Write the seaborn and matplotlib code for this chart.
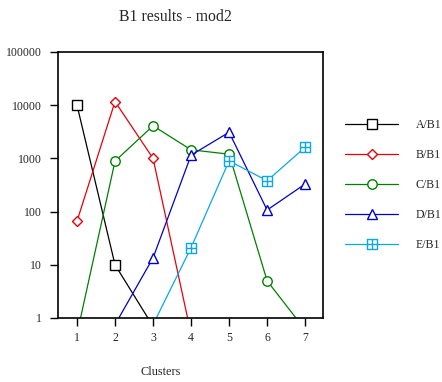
import numpy as np
import pandas as pd
import matplotlib
matplotlib.use("Agg")
import matplotlib.pyplot as plt
from matplotlib.path import Path
from matplotlib.markers import MarkerStyle
import seaborn as sns

clusters = [1, 2, 3, 4, 5, 6, 7]
series_names = ["A/B1", "B/B1", "C/B1", "D/B1", "E/B1"]
a_b1 = [10000, 10, 0.7, np.nan, np.nan, np.nan, np.nan]
b_b1 = [66, 11700, 1000, 0.5, np.nan, np.nan, np.nan]
c_b1 = [0.5, 890, 4100, 1450, 1200, 5, 0.6]
d_b1 = [np.nan, 0.75, 13.5, 1150, 3100, 107, 330]
e_b1 = [np.nan, np.nan, 0.75, 21, 900, 380, 1620]
y_ticks = [1, 10, 100, 1000, 10000, 100000]

colors = ["#000000", "#e8000b", "#008000", "#0000cc", "#0aa8e6"]

# square with a cross inside, for the last series
sq_cross = Path(
    [(-1, -1), (1, -1), (1, 1), (-1, 1), (-1, -1),
     (0, -1), (0, 1), (-1, 0), (1, 0)],
    [Path.MOVETO, Path.LINETO, Path.LINETO, Path.LINETO, Path.CLOSEPOLY,
     Path.MOVETO, Path.LINETO, Path.MOVETO, Path.LINETO],
)
markers = ["s", "D", "o", "^", MarkerStyle(sq_cross)]
marker_sizes = [6.5, 5, 6.8, 6.8, 7.2]

rows = []
for name, vals in zip(series_names, [a_b1, b_b1, c_b1, d_b1, e_b1]):
    for c, v in zip(clusters, vals):
        rows.append({"Clusters": c, "value": v, "series": name})
df = pd.DataFrame(rows)

sns.set_style("white")
plt.rcParams["font.family"] = ["Liberation Serif", "DejaVu Serif"]

fig = plt.figure(figsize=(4.42, 3.82), dpi=100)
ax = fig.add_axes([58 / 442, 1 - 318 / 382, 265 / 442, 266 / 382])

sns.lineplot(data=df, x="Clusters", y="value", hue="series", style="series",
             palette=colors, markers=markers, dashes=False, ax=ax,
             legend=False, linewidth=0.9, estimator=None, sort=False)

for line, col, ms in zip(ax.lines, colors, marker_sizes):
    line.set_markerfacecolor("white")
    line.set_markeredgecolor(col)
    line.set_markeredgewidth(1.0)
    line.set_markersize(ms)
    line.set_clip_on(True)

ax.set_yscale("log")
ax.set_ylim(1, 100000)
ax.set_xlim(0.5, 7.47)
ax.set_xticks(clusters)
ax.set_xticklabels([str(c) for c in clusters])
ax.set_yticks(y_ticks)
ax.set_yticklabels([str(t) for t in y_ticks])
ax.yaxis.set_minor_locator(matplotlib.ticker.NullLocator())
ax.tick_params(axis="both", which="major", direction="out", length=6,
               width=1, color="black", labelsize=8.5, bottom=True, left=True)
ax.tick_params(axis="y", pad=6)
ax.tick_params(axis="x", pad=4)
for s in ax.spines.values():
    s.set_color("black")
    s.set_linewidth(1.2)
ax.set_xlabel("")
ax.set_ylabel("")

fig.text(175.5 / 442, 1 - 17 / 382, "B1 results - mod2", ha="center",
         va="center", fontsize=11.3)
fig.text(161 / 442, 1 - 372 / 382, "Clusters", ha="center", va="center",
         fontsize=8.8)

leg = ax.legend(handles=list(ax.lines), labels=series_names, frameon=False,
                loc="center left", bbox_to_anchor=(345 / 442, 1 - 185 / 382),
                bbox_transform=fig.transFigure, fontsize=8.5,
                handlelength=4.5, handletextpad=1.5, labelspacing=1.53,
                borderaxespad=0, borderpad=0)

fig.savefig("out.png", dpi=100)
